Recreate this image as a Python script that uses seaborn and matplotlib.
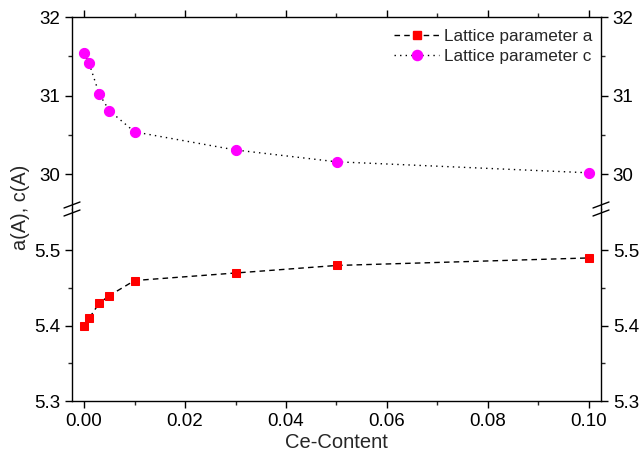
import numpy as np
import pandas as pd
import matplotlib
matplotlib.use("Agg")
import matplotlib.pyplot as plt
import seaborn as sns
from matplotlib.ticker import MultipleLocator, FixedLocator

ce_content = [0.0, 0.001, 0.003, 0.005, 0.01, 0.03, 0.05, 0.10]
lattice_a = [5.40, 5.41, 5.43, 5.44, 5.46, 5.47, 5.48, 5.49]
lattice_c = [31.54, 31.41, 31.02, 30.81, 30.54, 30.31, 30.16, 30.02]
x_ticks = [0.00, 0.02, 0.04, 0.06, 0.08, 0.10]
x_tick_labels = ["0.00", "0.02", "0.04", "0.06", "0.08", "0.10"]
top_ticks = [30, 31, 32]
bottom_ticks = [5.3, 5.4, 5.5]

sns.set_style("ticks")
plt.rcParams['font.family'] = ['Liberation Sans', 'DejaVu Sans']
plt.rcParams['axes.linewidth'] = 1.0

df_a = pd.DataFrame({"x": ce_content, "y": lattice_a})
df_c = pd.DataFrame({"x": ce_content, "y": lattice_c})

W, H = 641, 457
fig = plt.figure(figsize=(W / 100, H / 100), dpi=100)
left = 72 / W
width = (601 - 72) / W
brk = 209
ax_top = fig.add_axes([left, 1 - brk / H, width, (brk - 17) / H])
ax_bot = fig.add_axes([left, 1 - 401 / H, width, (401 - brk) / H])

# c series (top)
sns.lineplot(data=df_c, x="x", y="y", ax=ax_top, color="black", linestyle=(0, (1, 3)),
             linewidth=1.0, marker="o", markersize=7.3, markerfacecolor="#FF00FF",
             markeredgecolor="#FF00FF", label="Lattice parameter c", legend=False)
# a series (bottom)
sns.lineplot(data=df_a, x="x", y="y", ax=ax_bot, color="black", linestyle=(0, (4, 3)),
             linewidth=1.0, marker="s", markersize=6.3, markerfacecolor="#FF0000",
             markeredgecolor="#FF0000", label="Lattice parameter a", legend=False)

xlim = (-0.0024, 0.1024)
for ax in (ax_top, ax_bot):
    ax.set_xlim(*xlim)
    ax.set_xlabel("")
    ax.set_ylabel("")
    for s in ax.spines.values():
        s.set_visible(True)
        s.set_color("black")
        s.set_linewidth(1.0)
    ax.tick_params(which="major", direction="out", length=5, width=1.0, labelsize=13.5,
                   colors="black", left=True, right=True, labelleft=True, labelright=True)
    ax.tick_params(which="minor", direction="out", length=2.8, width=1.0,
                   left=True, right=True)
    ax.xaxis.set_major_locator(FixedLocator(x_ticks))
    ax.xaxis.set_minor_locator(MultipleLocator(0.01))

ax_top.set_ylim(29.56, 32)
ax_top.set_yticks(top_ticks)
ax_top.set_yticklabels([str(t) for t in top_ticks])
ax_top.yaxis.set_minor_locator(FixedLocator([30.5, 31.5]))
ax_top.spines["bottom"].set_visible(False)
ax_top.tick_params(axis="x", which="both", bottom=False, top=True, labelbottom=False, labeltop=False)

ax_bot.set_ylim(5.3, 5.555)
ax_bot.set_yticks(bottom_ticks)
ax_bot.set_yticklabels([f"{t:.1f}" for t in bottom_ticks])
ax_bot.yaxis.set_minor_locator(FixedLocator([5.35, 5.45]))
ax_bot.spines["top"].set_visible(False)
ax_bot.tick_params(axis="x", which="both", bottom=True, top=False, labelbottom=True)
ax_bot.set_xticklabels(x_tick_labels)
ax_bot.set_xlabel("Ce-Content", fontsize=14.5, labelpad=2)

# break marks
for xs in (72, 601):
    for yy in (205, 213):
        fig.add_artist(plt.Line2D([(xs - 8) / W, (xs + 8) / W],
                                  [1 - (yy + 3) / H, 1 - (yy - 3) / H],
                                  color="black", linewidth=1.0))

fig.text(20 / W, 1 - 207 / H, "a(A), c(A)", rotation=90, ha="center", va="center", fontsize=14.3)

# legend
h_a = plt.Line2D([], [], color="black", linestyle=(0, (4, 3)), linewidth=1.0, marker="s",
                 markersize=6.3, markerfacecolor="#FF0000", markeredgecolor="#FF0000")
h_c = plt.Line2D([], [], color="black", linestyle=(0, (1, 3)), linewidth=1.0, marker="o",
                 markersize=7.3, markerfacecolor="#FF00FF", markeredgecolor="#FF00FF")
ax_top.legend([h_a, h_c], ["Lattice parameter a", "Lattice parameter c"], loc="upper right",
              frameon=False, fontsize=12.3, handlelength=2.6, handletextpad=0.3,
              borderaxespad=0.3, labelspacing=0.3, bbox_to_anchor=(1.006, 1.0))

fig.savefig("out.png", dpi=100)
